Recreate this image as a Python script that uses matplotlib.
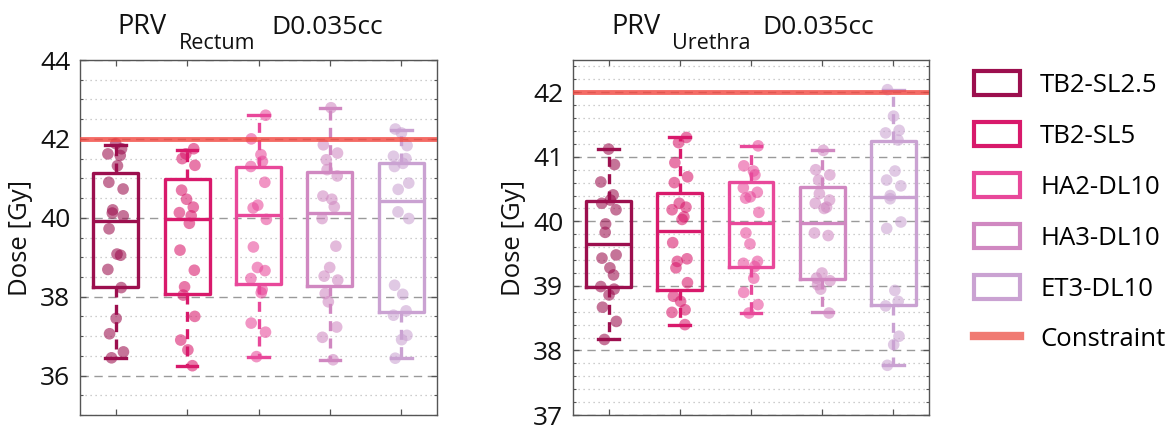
import numpy as np
import matplotlib
matplotlib.use("Agg")
import matplotlib.pyplot as plt
from matplotlib.patches import Patch
from matplotlib.lines import Line2D
from matplotlib.ticker import MultipleLocator

plt.rcParams['font.family'] = ['Open Sans', 'DejaVu Sans']

# ---------------- data ----------------
groups = ["TB2-SL2.5", "TB2-SL5", "HA2-DL10", "HA3-DL10", "ET3-DL10"]
colors = ["#9C0F4E", "#D8196B", "#E8489A", "#D088C1", "#CAA2D2"]
constraint = 42.0

# PRV Rectum D0.035cc (Gy)
rectum_points = [
    [41.88, 41.75, 41.62, 41.58, 41.32, 40.9, 40.73, 40.2, 40.12, 40.05, 39.72, 39.08, 39.05, 38.69, 38.23, 37.45, 37.06, 36.6, 36.45],
    [41.75, 41.62, 41.5, 41.33, 40.7, 40.47, 40.27, 40.13, 40.05, 39.86, 39.18, 38.67, 38.25, 38.04, 37.5, 36.9, 36.65, 36.25],
    [42.6, 42.0, 41.6, 41.43, 41.3, 40.9, 40.32, 40.25, 39.96, 39.26, 38.74, 38.66, 38.46, 38.18, 38.1, 37.33, 37.1, 36.48],
    [42.79, 41.85, 41.64, 41.47, 41.22, 41.06, 40.55, 40.47, 40.28, 39.98, 39.28, 38.74, 38.52, 38.42, 38.08, 37.87, 37.23, 36.97, 36.4],
    [42.25, 42.15, 41.83, 41.56, 41.5, 41.38, 41.3, 40.88, 40.72, 40.15, 39.98, 38.29, 38.06, 37.64, 37.53, 37.02, 36.91, 36.44],
]
rectum_q1 = [38.25, 38.06, 38.33, 38.27, 37.60]
rectum_med = [39.92, 39.96, 40.07, 40.13, 40.43]
rectum_q3 = [41.13, 40.99, 41.30, 41.15, 41.40]
rectum_lo = [36.45, 36.25, 36.48, 36.40, 36.44]
rectum_hi = [41.85, 41.73, 42.60, 42.79, 42.23]

# PRV Urethra D0.035cc (Gy)
urethra_points = [
    [41.12, 40.88, 40.61, 40.41, 40.33, 40.28, 40.18, 39.96, 39.83, 39.48, 39.43, 39.28, 39.17, 38.99, 38.95, 38.86, 38.67, 38.45, 38.17],
    [41.3, 41.22, 40.91, 40.69, 40.6, 40.28, 40.22, 40.18, 40.07, 40.03, 39.67, 39.42, 39.38, 39.28, 39.05, 38.84, 38.76, 38.63, 38.59, 38.4],
    [41.17, 40.86, 40.78, 40.72, 40.52, 40.45, 40.38, 40.36, 40.14, 39.82, 39.65, 39.38, 39.35, 39.3, 39.12, 38.9, 38.71, 38.58],
    [41.1, 40.8, 40.72, 40.64, 40.43, 40.33, 40.28, 40.2, 40.22, 39.82, 39.78, 39.2, 39.12, 39.08, 39.02, 38.95, 38.58],
    [42.04, 41.63, 41.41, 41.37, 41.26, 40.78, 40.64, 40.55, 40.4, 40.35, 39.99, 39.89, 38.93, 38.76, 38.69, 38.22, 38.09, 37.77],
]
urethra_q1 = [38.98, 38.94, 39.29, 39.10, 38.71]
urethra_med = [39.65, 39.85, 39.98, 39.98, 40.38]
urethra_q3 = [40.32, 40.44, 40.61, 40.54, 41.25]
urethra_lo = [38.17, 38.40, 38.58, 38.59, 37.77]
urethra_hi = [41.12, 41.30, 41.17, 41.10, 42.03]

# ---------------- figure ----------------
W, H = 1174, 425
fig = plt.figure(figsize=(W / 100, H / 100), dpi=100)

def px_axes(x0, y0, x1, y1):
    return fig.add_axes([x0 / W, 1 - y1 / H, (x1 - x0) / W, (y1 - y0) / H])

def draw_panel(ax, pts, q1, med, q3, lo, hi, ylim, minor, yticks):
    positions = np.arange(1, len(groups) + 1)
    for i, c in enumerate(colors):
        stats = [dict(med=med[i], q1=q1[i], q3=q3[i], whislo=lo[i], whishi=hi[i], fliers=[])]
        ax.bxp(stats, positions=[positions[i]], widths=0.63, capwidths=0.29,
               showfliers=False, manage_ticks=False,
               boxprops=dict(color=c, lw=2.4),
               medianprops=dict(color=c, lw=2.4),
               whiskerprops=dict(color=c, lw=2.4, linestyle=(0, (3.0, 2.2))),
               capprops=dict(color=c, lw=2.4))
        vals = np.asarray(pts[i])
        n = len(vals)
        jit = 0.11 * np.sin(np.arange(n) * 2.3 + i)
        ax.scatter(positions[i] + jit, vals, s=70, color=c, alpha=0.58,
                   edgecolors='none', zorder=4)
    ax.axhline(constraint, color="#F2463F", lw=3.5, alpha=0.8, zorder=5)
    ax.set_xlim(0.5, len(groups) + 0.5)
    ax.set_ylim(*ylim)
    ax.set_xticks(positions)
    ax.set_xticklabels([])
    ax.set_yticks(yticks)
    ax.yaxis.set_minor_locator(MultipleLocator(minor))
    ax.grid(True, which='major', axis='y', color='#9a9a9a', lw=1.0,
            linestyle=(0, (6, 4)), zorder=0)
    ax.grid(True, which='minor', axis='y', color='#bdbdbd', lw=0.9,
            linestyle=(0, (1, 3)), zorder=0)
    ax.set_axisbelow(True)
    ax.tick_params(axis='both', which='both', direction='in', top=True,
                   right=True, color='#555555')
    ax.tick_params(axis='both', which='major', length=4, width=0.9)
    ax.tick_params(axis='y', which='minor', length=2.5, width=0.8)
    ax.tick_params(axis='y', labelsize=19, pad=7, labelcolor='#111111')
    for sp in ax.spines.values():
        sp.set_color('#555555')
        sp.set_linewidth(1.0)
    ax.set_ylabel("Dose [Gy]", fontsize=18.5, labelpad=5, color='#111111')

ax1 = px_axes(80, 60, 437, 415)
draw_panel(ax1, rectum_points, rectum_q1, rectum_med, rectum_q3, rectum_lo,
           rectum_hi, (35, 44), 0.5, [36, 38, 40, 42, 44])

ax2 = px_axes(573, 60, 929, 415)
draw_panel(ax2, urethra_points, urethra_q1, urethra_med, urethra_q3, urethra_lo,
           urethra_hi, (37, 42.5), 0.2, [37, 38, 39, 40, 41, 42])

# titles
def title(x_prv, x_sub, x_d, sub):
    fig.text(x_prv / W, 1 - 34 / H, "PRV", fontsize=19.5, ha='left', va='baseline', color='#111111')
    fig.text(x_sub / W, 1 - 49 / H, sub, fontsize=15.5, ha='left', va='baseline', color='#111111')
    fig.text(x_d / W, 1 - 34 / H, "D0.035cc", fontsize=19, ha='left', va='baseline', color='#111111')

title(117, 179, 271, "Rectum")
title(611, 672, 762, "Urethra")

# legend
handles = [Patch(facecolor='none', edgecolor=c, lw=3) for c in colors]
handles.append(Line2D([0], [0], color="#F07A72", lw=6))
labels = groups + ["Constraint"]
fig.legend(handles, labels, loc='upper left', bbox_to_anchor=(974 / W, 1 - 71 / H),
           frameon=False, fontsize=18.5, handlelength=1.79, handleheight=1.09,
           handletextpad=0.78, labelspacing=0.93, borderaxespad=0, borderpad=0)

fig.savefig("out.png", dpi=100)
